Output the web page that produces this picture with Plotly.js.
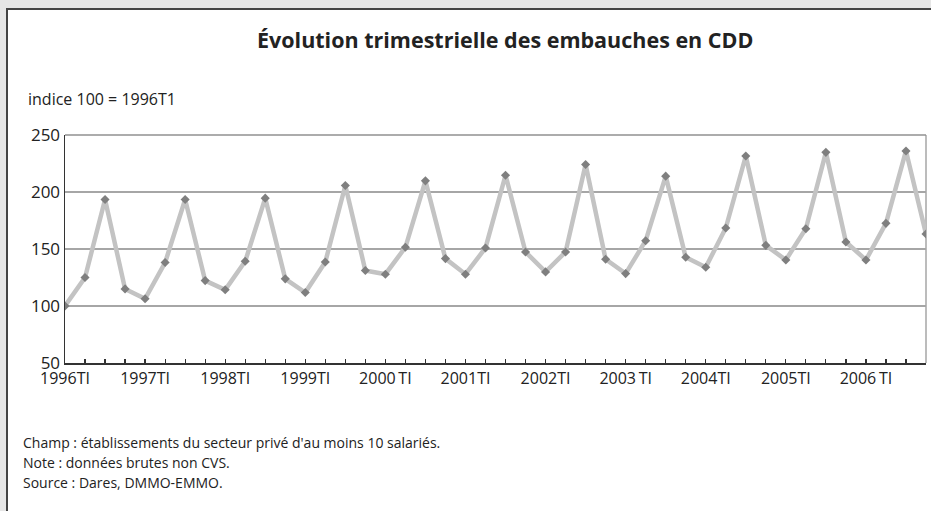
<!DOCTYPE html>
<html>
<head>
<meta charset="utf-8">
<script src="https://cdn.plot.ly/plotly-3.0.1.min.js"></script>
<style>
html,body{margin:0;padding:0;background:#e6e6e6;overflow:hidden;width:931px;height:511px;}
#panel{position:absolute;left:6px;top:8px;width:960px;height:540px;background:#ffffff;border-left:2px solid #444;border-top:2px solid #444;}
#chart{position:absolute;left:0;top:0;width:931px;height:511px;}
</style>
</head>
<body>
<div id="panel"></div>
<div id="chart"></div>
<script>
// Quarters 1996T1 .. 2006T4
const years = [1996,1997,1998,1999,2000,2001,2002,2003,2004,2005,2006];
const quarters = [];
years.forEach(y => { for (let q = 1; q <= 4; q++) quarters.push(y + "T" + q); });

const embauchesCDD = [
  100, 125, 193.4, 115,
  106.3, 138.1, 193.4, 122.3,
  114.2, 139.2, 194.6, 123.8,
  111.8, 138.6, 205.7, 131.1,
  127.9, 151.5, 209.8, 141.6,
  127.9, 150.9, 214.7, 147.4,
  129.9, 147.4, 224.1, 141.0,
  128.4, 157.3, 213.9, 142.7,
  134.0, 168.4, 231.6, 153.2,
  140.4, 167.8, 234.8, 156.1,
  140.4, 172.5, 236.0, 163.1
];

const tickLabels = ["1996TI","1997TI","1998TI","1999TI","2000\u2009TI","2001TI","2002TI","2003\u2009TI","2004TI","2005TI","2006\u2009TI"];
const tickQuarters = years.map(y => y + "T1");

const xIdx = quarters.map((_, i) => i);
// a tick at every quarter, a label only on each year's first quarter
const allTickText = quarters.map(q => {
  const k = tickQuarters.indexOf(q);
  return k >= 0 ? tickLabels[k] : "";
});

const FONT = "Open Sans, Noto Sans, sans-serif";

const trace = {
  x: xIdx,
  y: embauchesCDD,
  type: "scatter",
  mode: "lines+markers",
  line: { color: "#c3c3c3", width: 4.5 },
  marker: { symbol: "diamond", size: 7, color: "#7f7f7f" },
  hoverinfo: "y"
};

const px = (p) => (p - 65) / 861;
const py = (p) => (363 - p) / 228;

const layout = {
  width: 931, height: 511,
  margin: { l: 65, r: 5, t: 135, b: 148 },
  paper_bgcolor: "rgba(0,0,0,0)",
  plot_bgcolor: "rgba(0,0,0,0)",
  showlegend: false,
  font: { family: FONT, color: "#222", size: 16 },
  xaxis: {
    range: [0, quarters.length - 1],
    tickmode: "array",
    tickvals: xIdx,
    ticktext: allTickText,
    ticks: "inside", ticklen: 4, tickwidth: 1.2, tickcolor: "#333",
    showline: true, linecolor: "#333", linewidth: 1.5,
    showgrid: false, zeroline: false,
    tickfont: { family: FONT, size: 16, color: "#222" },
    tickangle: 0,
    fixedrange: true
  },
  yaxis: {
    range: [50, 250],
    tickvals: [50, 100, 150, 200, 250],
    ticks: "",
    showline: true, linecolor: "#333", linewidth: 1.5,
    showgrid: true, gridcolor: "#a6a6a6", gridwidth: 1.2,
    zeroline: false,
    tickfont: { family: FONT, size: 17, color: "#222" },
    fixedrange: true
  },
  shapes: [
    { type: "line", xref: "paper", yref: "paper", layer: "below",
      x0: 1, x1: 1, y0: 0, y1: 1, line: { color: "#a6a6a6", width: 1.5 } },
    { type: "line", xref: "paper", yref: "paper", layer: "below",
      x0: 0, x1: 1, y0: 1, y1: 1, line: { color: "#909090", width: 1.5 } }
  ],
  annotations: [
    { text: "<b>Évolution trimestrielle des embauches en CDD</b>", xref: "paper", yref: "paper",
      x: px(505), y: py(40), xanchor: "center", yanchor: "middle", showarrow: false,
      font: { family: FONT, size: 21.5, color: "#222" } },
    { text: "indice 100 = 1996T1", xref: "paper", yref: "paper",
      x: px(26), y: py(99), xanchor: "left", yanchor: "middle", showarrow: false,
      font: { family: FONT, size: 16, color: "#222" } },
    { text: "Champ : établissements du secteur privé d'au moins 10 salariés.", xref: "paper", yref: "paper",
      x: px(21), y: py(442), xanchor: "left", yanchor: "middle", showarrow: false,
      font: { family: FONT, size: 14, color: "#222" } },
    { text: "Note : données brutes non CVS.", xref: "paper", yref: "paper",
      x: px(21), y: py(462), xanchor: "left", yanchor: "middle", showarrow: false,
      font: { family: FONT, size: 14, color: "#222" } },
    { text: "Source : Dares, DMMO-EMMO.", xref: "paper", yref: "paper",
      x: px(21), y: py(482), xanchor: "left", yanchor: "middle", showarrow: false,
      font: { family: FONT, size: 14, color: "#222" } }
  ]
};

Plotly.newPlot("chart", [trace], layout, { displayModeBar: false, staticPlot: true });
</script>
</body>
</html>
